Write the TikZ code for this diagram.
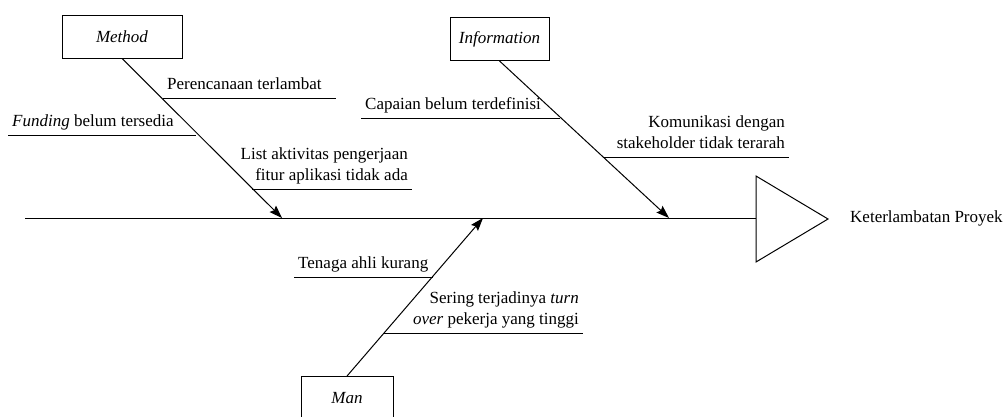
\documentclass[tikz,border=0pt]{standalone}
\usepackage{fontspec}
\setmainfont{Liberation Serif}
\usetikzlibrary{shapes,arrows.meta}
\tikzstyle{cat}=[rectangle,draw=black,line width=0.9pt,
  font=\fontsize{17}{21}\selectfont\itshape,inner sep=3pt,minimum height=43pt]
\tikzstyle{cause}=[font=\fontsize{17}{21}\selectfont,inner xsep=4pt,
  inner ysep=4pt,text depth=4pt]
\tikzstyle{bone}=[line width=1pt,-{Stealth[length=13pt,width=9pt,inset=2pt]}]
\tikzstyle{rib}=[line width=0.9pt]

\begin{document}
\begin{tikzpicture}[x=1pt,y=-1pt]
    \useasboundingbox (0,0) rectangle (1006,416);
    % spine and head
    \coordinate (tail) at (25,218);
    \coordinate (head) at (756,218);
    \coordinate (t1) at (756,176);
    \coordinate (t2) at (828,219);
    \coordinate (t3) at (756,262);
    \draw [rib] (tail) to (head);
    \draw [line width=1pt] (t1) -- (t2) -- (t3) -- cycle;
    \node [cause, anchor=west] (effect) at (846,219) {Keterlambatan Proyek};
    % categories
    \node [style=cat, minimum width=120pt] (method) at (122,36.5) {Method};
    \node [style=cat, minimum width=99pt] (info) at (499.5,39) {Information};
    \node [style=cat, minimum width=92pt] (man) at (347,398) {Man};
    \coordinate (mhit) at (282,218);
    \coordinate (ihit) at (669,218);
    \coordinate (nhit) at (483,218);
    \draw [style=bone] (method.south) to (mhit);
    \draw [style=bone] (info.south) to (ihit);
    \draw [style=bone] (man.north) to (nhit);
    % causes: method
    \coordinate (m1a) at (163,98);
    \coordinate (m1b) at (336,98);
    \coordinate (m2a) at (8,135);
    \coordinate (m2b) at (196,135);
    \coordinate (m3a) at (252,189);
    \coordinate (m3b) at (412,189);
    \draw [rib] (m1a) to (m1b);
    \draw [rib] (m2a) to (m2b);
    \draw [rib] (m3a) to (m3b);
    \node [cause, anchor=south west] (plan) at (m1a) {Perencanaan terlambat};
    \node [cause, anchor=south west] (fund) at (m2a) {\textit{Funding} belum tersedia};
    \node [cause, anchor=south east, align=right] (list) at (m3b)
      {List aktivitas pengerjaan\\fitur aplikasi tidak ada};
    % causes: information
    \coordinate (i1a) at (361,118);
    \coordinate (i1b) at (560,118);
    \coordinate (i2a) at (603,157);
    \coordinate (i2b) at (789,157);
    \draw [rib] (i1a) to (i1b);
    \draw [rib] (i2a) to (i2b);
    \node [cause, anchor=south west] (goal) at (i1a) {Capaian belum terdefinisi};
    \node [cause, anchor=south east, align=right] (comm) at (i2b)
      {Komunikasi dengan\\stakeholder tidak terarah};
    % causes: man
    \coordinate (n1a) at (294,277);
    \coordinate (n1b) at (433,277);
    \coordinate (n2a) at (383,333);
    \coordinate (n2b) at (583,333);
    \draw [rib] (n1a) to (n1b);
    \draw [rib] (n2a) to (n2b);
    \node [cause, anchor=south west] (staff) at (n1a) {Tenaga ahli kurang};
    \node [cause, anchor=south east, align=right] (turn) at (n2b)
      {Sering terjadinya \textit{turn}\\\textit{over} pekerja yang tinggi};
  \end{tikzpicture}
\end{document}
